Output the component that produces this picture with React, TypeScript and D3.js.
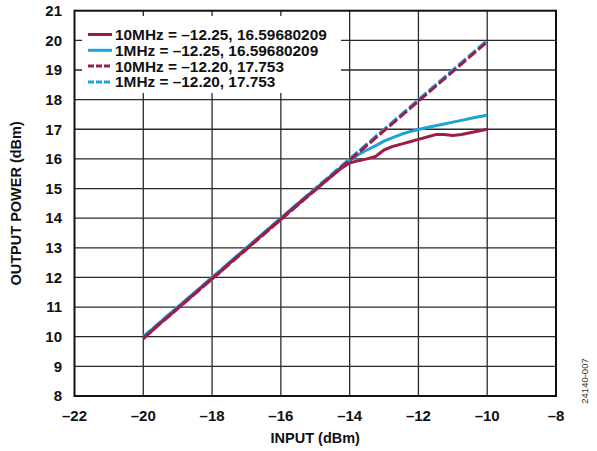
import React from "react";
import * as d3 from "d3";

// Input drive level (dBm) for the measured sweeps
const inputDbm = [
  -20, -19.75, -19.5, -19.25, -19, -18.75, -18.5, -18.25, -18, -17.75, -17.5,
  -17.25, -17, -16.75, -16.5, -16.25, -16, -15.75, -15.5, -15.25, -15, -14.75,
  -14.5, -14.25, -14, -13.75, -13.5, -13.25, -13, -12.75, -12.5, -12.25, -12,
  -11.75, -11.5, -11.25, -11, -10.75, -10.5, -10.25, -10,
];

// Measured output power, 10 MHz
const out10MHz = [
  9.93, 10.2, 10.46, 10.7, 10.96, 11.2, 11.46, 11.72, 11.97, 12.2, 12.47,
  12.72, 12.96, 13.22, 13.47, 13.72, 13.97, 14.22, 14.47, 14.72, 14.95, 15.2,
  15.44, 15.68, 15.86, 15.94, 16.0, 16.08, 16.3, 16.42, 16.5, 16.58, 16.66,
  16.74, 16.82, 16.82, 16.79, 16.82, 16.88, 16.94, 17.0,
];

// Measured output power, 1 MHz
const out1MHz = [
  10.0, 10.25, 10.5, 10.75, 11.0, 11.25, 11.5, 11.75, 12.0, 12.25, 12.5,
  12.75, 13.0, 13.25, 13.5, 13.75, 14.0, 14.25, 14.5, 14.74, 14.98, 15.23,
  15.47, 15.72, 15.95, 16.14, 16.3, 16.44, 16.6, 16.72, 16.83, 16.92, 16.99,
  17.06, 17.12, 17.18, 17.24, 17.3, 17.36, 17.42, 17.47,
];

// Linear (ideal) gain reference lines
const idealInput = [-20, -10];
const ideal10MHz = [9.95, 19.95];
const ideal1MHz = [10.0, 20.0];

const xTicks = [-22, -20, -18, -16, -14, -12, -10, -8];
const yTicks = [8, 9, 10, 11, 12, 13, 14, 15, 16, 17, 18, 19, 20, 21];

const legendLabels = [
  "10MHz = \u201312.25, 16.59680209",
  "1MHz = \u201312.25, 16.59680209",
  "10MHz = \u201312.20, 17.753",
  "1MHz = \u201312.20, 17.753",
];

const RED = "#9c1d48";
const BLUE = "#1ca3d8";
const FONT = "Arial, 'Liberation Sans', Helvetica, sans-serif";

const W = 597;
const H = 451;
const plot = { left: 74.5, right: 556, top: 10.7, bottom: 396 };

export default function App() {
  const x = d3.scaleLinear().domain([-22, -8]).range([plot.left, plot.right]);
  const y = d3.scaleLinear().domain([8, 21]).range([plot.bottom, plot.top]);

  const line = d3
    .line<[number, number]>()
    .x((d) => x(d[0]))
    .y((d) => y(d[1]))
    .curve(d3.curveLinear);

  const pairs = (xs: number[], ys: number[]) =>
    xs.map((v, i) => [v, ys[i]] as [number, number]);

  const fmt = (v: number) => (v < 0 ? "\u2013" + Math.abs(v) : String(v));

  const series = [
    { color: RED, dash: "", path: line(pairs(inputDbm, out10MHz)) },
    { color: BLUE, dash: "", path: line(pairs(inputDbm, out1MHz)) },
    { color: RED, dash: "10,3", path: line(pairs(idealInput, ideal10MHz)) },
    { color: BLUE, dash: "10,3", path: line(pairs(idealInput, ideal1MHz)) },
  ];
  // draw order: blue under red
  const drawOrder = [3, 1, 2, 0];

  const legend = { x: 82, y: 16, w: 259, h: 77 };
  const rowY = [34.5, 50.3, 66.1, 81.9];

  return (
    <svg
      width={W}
      height={H}
      style={{ position: "absolute", left: 0, top: 0, background: "#fff" }}
      fontFamily={FONT}
    >
      <rect x={0} y={0} width={W} height={H} fill="#fff" />
      {/* grid */}
      <g stroke="#2a2a2a" strokeWidth={1.3}>
        {xTicks.slice(1, -1).map((t) => (
          <line key={"gx" + t} x1={x(t)} x2={x(t)} y1={plot.top} y2={plot.bottom} />
        ))}
        {yTicks.slice(1, -1).map((t) => (
          <line key={"gy" + t} x1={plot.left} x2={plot.right} y1={y(t)} y2={y(t)} />
        ))}
      </g>
      {/* legend background */}
      <rect x={legend.x} y={legend.y} width={legend.w} height={legend.h} fill="#fff" />
      {/* series */}
      {drawOrder.map((i) => (
        <path
          key={"s" + i}
          d={series[i].path || ""}
          fill="none"
          stroke={series[i].color}
          strokeWidth={3}
          strokeDasharray={series[i].dash}
          strokeLinejoin="round"
        />
      ))}
      {/* frame */}
      <rect
        x={plot.left}
        y={plot.top}
        width={plot.right - plot.left}
        height={plot.bottom - plot.top}
        fill="none"
        stroke="#111"
        strokeWidth={2}
      />
      {/* legend */}
      {legendLabels.map((lab, i) => (
        <g key={"l" + i}>
          <line
            x1={88}
            x2={112}
            y1={rowY[i]}
            y2={rowY[i]}
            stroke={series[i].color}
            strokeWidth={3}
            strokeDasharray={series[i].dash ? "6,2" : ""}
          />
          <text
            x={115}
            y={rowY[i] + 5.4}
            fontSize={15.4}
            fontWeight="bold"
            fill="#111"
          >
            {lab}
          </text>
        </g>
      ))}
      {/* y tick labels */}
      {yTicks.map((t) => (
        <text
          key={"yt" + t}
          x={62}
          y={y(t) + 5.3}
          textAnchor="end"
          fontSize={15}
          fontWeight="bold"
          fill="#111"
        >
          {t}
        </text>
      ))}
      {/* x tick labels */}
      {xTicks.map((t) => (
        <text
          key={"xt" + t}
          x={x(t)}
          y={420.5}
          textAnchor="middle"
          fontSize={15}
          fontWeight="bold"
          fill="#111"
        >
          {fmt(t)}
        </text>
      ))}
      <text
        x={(plot.left + plot.right) / 2}
        y={443}
        textAnchor="middle"
        fontSize={14.5}
        fontWeight="bold"
        fill="#111"
      >
        INPUT (dBm)
      </text>
      <text
        transform={`translate(21, ${(plot.top + plot.bottom) / 2}) rotate(-90)`}
        textAnchor="middle"
        fontSize={14.5}
        fontWeight="bold"
        fill="#111"
      >
        OUTPUT POWER (dBm)
      </text>
      <text
        transform="translate(588, 381) rotate(-90)"
        textAnchor="middle"
        fontSize={9.5}
        fill="#333"
      >
        24140-007
      </text>
    </svg>
  );
}
